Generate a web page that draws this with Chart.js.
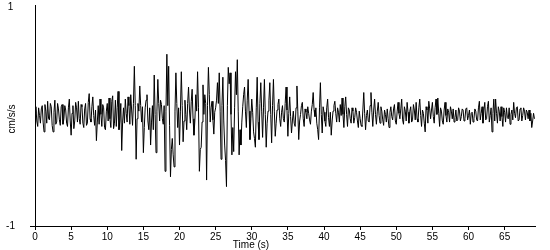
<!DOCTYPE html>
<html>
<head>
<meta charset="utf-8">
<script src="https://cdn.jsdelivr.net/npm/chart.js@4/dist/chart.umd.min.js"></script>
<style>
  html, body { margin: 0; padding: 0; background: #fff; }
  #wrap { width: 550px; height: 250px; }
</style>
</head>
<body>
<div id="wrap"><canvas id="c" width="550" height="250"></canvas></div>
<script>
// ---- data (acceleration in cm/s/s) ----
// Main samples every 0.25 s from each segment start; "Mid" samples sit halfway between them.
const sampleInterval = 0.25;

const preEventStart = 0;
const preEventAccel = [
  0.03, -0.04, 0.08, -0.06,
  0.10, -0.14, 0.05, 0.14,
  -0.03, 0.09, -0.14, 0.15,
  -0.05, 0.07, -0.08, 0.11,
  -0.02, 0.06, -0.09, 0.16,
  -0.17, 0.10, -0.04, 0.08,
  0.14, -0.07, 0.09, -0.10,
  0.12, -0.06, 0.21, -0.05,
  0.18, -0.08, -0.22, 0.10,
  0.16, -0.09, 0.08, -0.12,
  0.12, 0.17, -0.10, 0.19,
  -0.06, -0.09, 0.23, -0.04
];
const preEventMid = [
  0.09, -0.09, 0.01, 0.07, -0.05, 0.11, -0.06, -0.02,
  0.12, -0.08, 0.04, -0.07, 0.12, -0.03, 0.09, -0.07,
  0.10, -0.06, 0.08, -0.04, 0.03, -0.11, 0.13, -0.05,
  -0.02, 0.11, -0.06, 0.07, -0.08, 0.13, -0.02, 0.09,
  0.01, 0.06, -0.05, -0.07, 0.02, 0.11, -0.10, 0.05,
  -0.04, -0.02, 0.14, -0.11, 0.15, 0.08, -0.12, 0.12
];

const onsetStart = 12;
const onsetAccel = [-0.31, 0.08, 0.16, -0.05, 0.10, 0.20, -0.08, 0.46];
const onsetMid = [-0.05, -0.06, 0.03, 0.18, -0.07, 0.06, 0.12, 0.10];

const strongStart = 14;
const strongAccel = [
  -0.39, 0.12, 0.28, -0.05,
  -0.33, 0.08, 0.20, -0.12,
  -0.26, 0.10, 0.38, -0.33,
  0.34, -0.04, 0.11, -0.07,
  -0.50, 0.57, 0.46, -0.55,
  -0.20, -0.46, 0.40, -0.10,
  -0.26, 0.41, -0.23, 0.15,
  -0.12, 0.27, -0.06, 0.25,
  -0.17, 0.20, 0.41, -0.50,
  -0.28, 0.29, 0.20, -0.58,
  0.45, -0.05, 0.14, -0.16,
  0.08, 0.31, 0.40, -0.39,
  0.36, -0.26, -0.64, 0.45,
  0.40, -0.35, -0.32, 0.41,
  0.52, -0.35, -0.26, 0.09,
  0.27, -0.10, 0.34, -0.21,
  0.16, -0.14, -0.28, 0.36,
  -0.21
];
const strongMid = [
  -0.02, 0.05, 0.10, 0.09,
  -0.10, 0.15, -0.04, 0.08,
  -0.05, -0.12, 0.02, 0.05,
  0.12, 0.15, -0.02, 0.10,
  0.05, 0.10, -0.08, -0.30,
  -0.35, 0.05, 0.12, 0.08,
  0.05, 0.10, -0.04, 0.02,
  0.12, 0.06, 0.14, -0.02,
  -0.04, 0.05, 0.08, -0.30,
  -0.05, 0.02, 0.12, 0.10,
  0.20, 0.08, -0.03, 0.04,
  0.15, 0.12, 0.05, 0.10,
  -0.04, -0.40, 0.10, 0.30,
  0.02, -0.10, 0.08, 0.20,
  0.05, -0.12, -0.05, 0.20,
  0.05, 0.15, 0.05, -0.02,
  0.04, -0.20, 0.08, -0.05,
  0.12
];

const codaStart = 31.25;
const codaAccel = [
  0.31, -0.19, 0.34,
  -0.28, 0.05, 0.31, -0.24,
  0.34, -0.18, 0.06, 0.16,
  -0.09, 0.10, -0.05, 0.27,
  -0.18, 0.18, -0.15, 0.05,
  -0.09, 0.28, -0.21, 0.02,
  0.13, -0.09, 0.04, 0.09,
  -0.03, 0.05, 0.22, 0.00,
  -0.06, -0.21, 0.31, -0.15,
  0.04, -0.09, 0.16, -0.09,
  -0.17, 0.05, 0.14, -0.05,
  0.04, 0.11, 0.17, -0.10,
  0.18, -0.09, 0.06, -0.06,
  0.05, -0.01, 0.04, -0.10,
  -0.02, -0.09, 0.22, -0.12,
  0.06, -0.05, 0.22, -0.09,
  0.16, -0.07, 0.13, -0.06,
  0.05, -0.08, 0.02, 0.07,
  -0.10, 0.09, -0.03, 0.11,
  -0.07, 0.13, -0.02, 0.16,
  -0.07, 0.05, 0.13, -0.06,
  0.09, -0.03, 0.06, 0.13,
  -0.05, 0.16, -0.09, 0.03,
  -0.14, 0.06, 0.14, -0.02,
  0.13, -0.06, 0.16, 0.17,
  -0.09, 0.05, -0.07, 0.13,
  -0.05, 0.04, 0.09, -0.02,
  -0.05, 0.06, -0.03, 0.05,
  0.00, 0.06, -0.02, 0.08,
  0.01, -0.07, 0.04, -0.02,
  0.05, -0.04, 0.14, 0.03,
  -0.06, 0.13, -0.02, 0.14,
  0.01, -0.14, 0.16, 0.16,
  -0.06, 0.05, 0.09, -0.09,
  0.04, 0.08, -0.02, -0.07,
  0.06, 0.13, -0.01, 0.09,
  -0.03, 0.08, 0.01, 0.05,
  0.06, -0.02, -0.04, -0.10,
  0.03
];
const codaMid = [
  0.05, 0.08, 0.02,
  -0.06, 0.15, 0.02, 0.10,
  0.05, -0.06, 0.11, -0.02,
  0.04, -0.02, 0.12, 0.06,
  0.03, 0.00, -0.04, -0.06,
  0.08, 0.05, -0.04, 0.10,
  -0.02, 0.07, -0.02, 0.03,
  -0.07, 0.11, 0.06, 0.08,
  -0.12, 0.08, 0.02, 0.09,
  -0.04, 0.08, -0.01, 0.04,
  -0.04, 0.10, 0.03, 0.08,
  -0.05, 0.01, 0.02, 0.09,
  0.02, 0.08, -0.02, 0.08,
  -0.06, 0.08, -0.04, 0.05,
  -0.08, 0.06, 0.03, 0.01,
  -0.04, 0.10, 0.04, 0.06,
  0.02, 0.05, 0.01, 0.09,
  -0.03, 0.06, -0.05, -0.02,
  0.04, 0.00, 0.07, -0.04,
  0.05, 0.03, 0.07, -0.03,
  0.09, -0.04, 0.04, 0.05,
  -0.05, 0.11, -0.03, -0.02,
  0.08, 0.01, 0.06, -0.06,
  0.09, -0.06, 0.07, 0.06,
  0.00, 0.08, 0.02, 0.03,
  0.08, -0.04, 0.06, 0.01,
  0.07, -0.05, 0.05, 0.07,
  -0.01, -0.04, 0.08, -0.04,
  0.07, -0.04, 0.07, -0.03,
  0.06, 0.03, -0.05, 0.07,
  -0.03, 0.08, -0.03, 0.09,
  0.06, -0.03, 0.09, -0.05,
  0.08, 0.03, -0.04, 0.03,
  0.09, -0.04, 0.00, 0.08,
  -0.05, -0.01, 0.08, 0.02,
  -0.03, 0.03, 0.08, -0.04,
  0.07, -0.04, 0.08, -0.03,
  0.04, 0.06, 0.03, -0.04,
  -0.02
];

const xTickValues = [0, 5, 10, 15, 20, 25, 30, 35, 40, 45, 50, 55, 60, 65];
const yTickValues = [-1, 1];
const xAxisTitle = 'Time (s)';
const yAxisTitle = 'cm/s/s';

// ---- build points (main + halfway samples, in time order) ----
function segment(start, values, mids) {
  const out = [];
  values.forEach((v, i) => {
    const t = start + i * sampleInterval;
    out.push({ x: t, y: v });
    out.push({ x: t + sampleInterval / 2, y: mids[i] });
  });
  return out;
}
const points = [].concat(
  segment(preEventStart, preEventAccel, preEventMid),
  segment(onsetStart, onsetAccel, onsetMid),
  segment(strongStart, strongAccel, strongMid),
  segment(codaStart, codaAccel, codaMid)
);

const FONT = { family: '"Liberation Sans", Arial, sans-serif', size: 10 };

const titlePlugin = {
  id: 'axisTitles',
  afterDraw(chart) {
    const ctx = chart.ctx;
    ctx.save();
    ctx.font = '10px "Liberation Sans", Arial, sans-serif';
    ctx.fillStyle = '#000';
    ctx.textAlign = 'center';
    ctx.textBaseline = 'middle';
    ctx.fillText(xAxisTitle, 251, 245);
    ctx.translate(12, 119);
    ctx.rotate(-Math.PI / 2);
    ctx.fillText(yAxisTitle, 0, 0);
    ctx.restore();
  }
};

new Chart(document.getElementById('c'), {
  type: 'line',
  data: {
    datasets: [{
      data: points,
      borderColor: '#000',
      borderWidth: 1,
      pointRadius: 0,
      tension: 0,
      fill: false
    }]
  },
  options: {
    responsive: false,
    animation: false,
    devicePixelRatio: 1,
    layout: { padding: { top: 5, right: 15, left: 0, bottom: 0 } },
    plugins: { legend: { display: false }, tooltip: { enabled: false } },
    scales: {
      x: {
        type: 'linear',
        min: 0,
        max: 69.2,
        afterFit(scale) { scale.height = 24; scale.paddingLeft = 0; scale.paddingRight = 0; },
        afterBuildTicks(scale) { scale.ticks = xTickValues.map(v => ({ value: v })); },
        border: { display: true, color: '#000', width: 1 },
        grid: { display: true, drawOnChartArea: false, drawTicks: true, tickLength: 4, color: '#000' },
        ticks: { color: '#000', font: FONT, padding: 1, maxRotation: 0, autoSkip: false }
      },
      y: {
        type: 'linear',
        min: -1,
        max: 1.02,
        afterFit(scale) { scale.width = 35; scale.paddingTop = 0; scale.paddingBottom = 0; },
        afterBuildTicks(scale) { scale.ticks = yTickValues.map(v => ({ value: v })); },
        border: { display: true, color: '#000', width: 1 },
        grid: {
          display: true, drawOnChartArea: false, drawTicks: true, tickLength: 5,
          color: (ctx) => (ctx.tick && ctx.tick.value === -1) ? '#000' : 'rgba(0,0,0,0)'
        },
        ticks: { color: '#000', font: FONT, padding: 15, crossAlign: 'center' }
      }
    }
  },
  plugins: [titlePlugin]
});
</script>
</body>
</html>
